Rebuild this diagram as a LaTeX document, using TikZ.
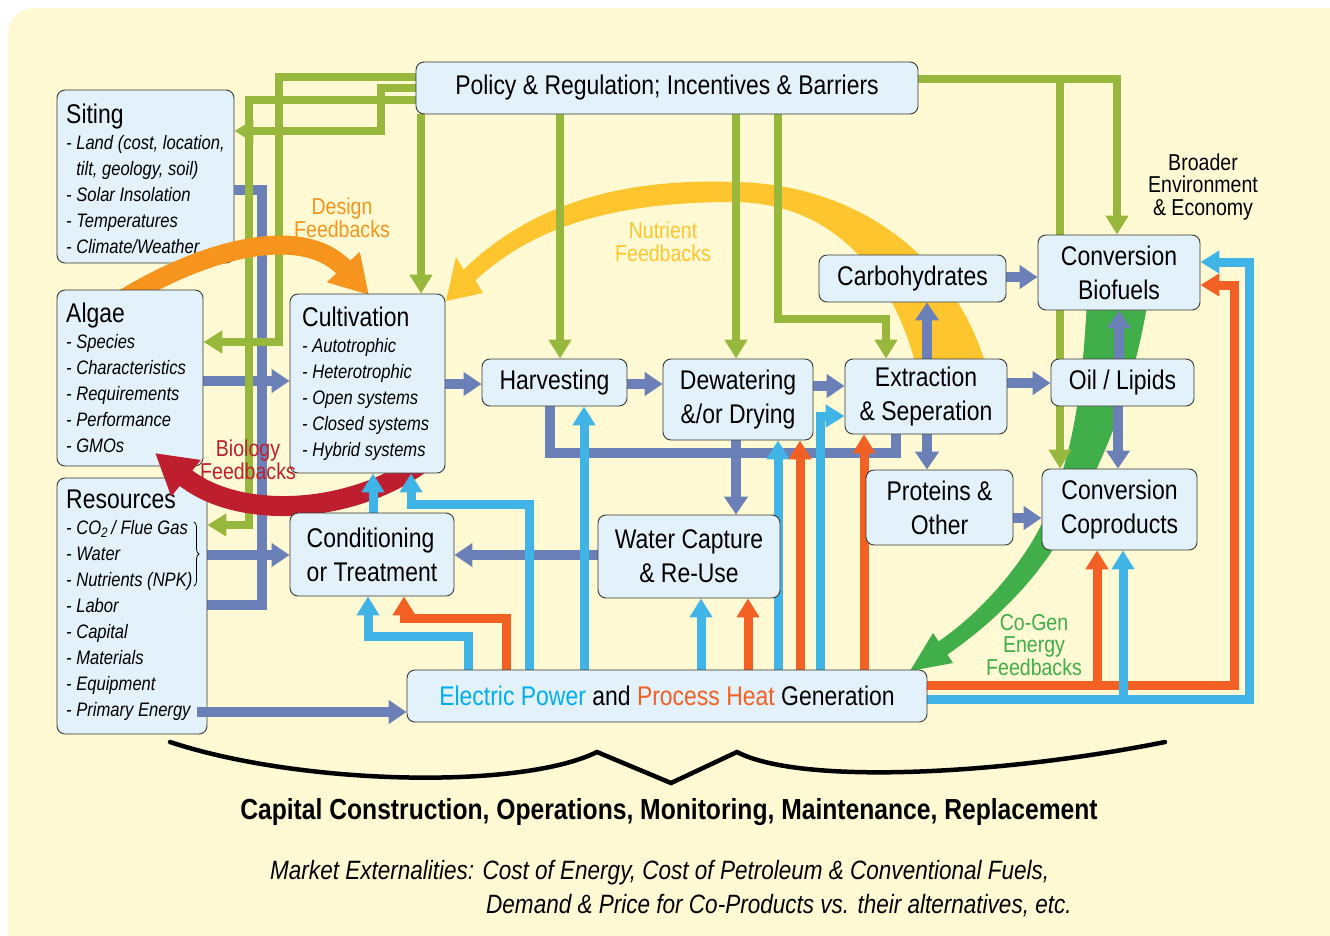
\documentclass[tikz,border=0pt]{standalone}
\usepackage{fontspec}
\setmainfont{Liberation Sans}[FakeStretch=0.85]
\usetikzlibrary{arrows.meta,decorations.pathreplacing}
\definecolor{bgYellow}{HTML}{FFFAD3}
\definecolor{boxBlue}{HTML}{E3F2FA}
\definecolor{boxLine}{HTML}{353535}
\definecolor{polGreen}{HTML}{98B83D}
\definecolor{matPurple}{HTML}{6C80B8}
\definecolor{elecBlue}{HTML}{40B4E6}
\definecolor{heatOrange}{HTML}{F26024}
\definecolor{designOrange}{HTML}{F7941E}
\definecolor{nutrYellow}{HTML}{FEC52E}
\definecolor{bioRed}{HTML}{BE1E2D}
\definecolor{cogenGreen}{HTML}{40AE49}
\definecolor{elecText}{HTML}{00AEEF}
\newcommand{\titlesize}{\fontsize{27}{34}\selectfont}
\newcommand{\itemsize}{\fontsize{19.5}{26}\selectfont\itshape}
\newcommand{\fbsize}{\fontsize{23}{22.5}\selectfont}
\pgfdeclarelayer{back}
\pgfdeclarelayer{sitinglayer}
\pgfdeclarelayer{lowflow}
\pgfdeclarelayer{designlayer}
\pgfdeclarelayer{leftbox}
\pgfdeclarelayer{biolayer}
\pgfdeclarelayer{highflow}
\pgfsetlayers{back,sitinglayer,lowflow,designlayer,leftbox,biolayer,highflow,main}

\begin{document}
\begin{tikzpicture}[x=1pt,y=-1pt,
    box/.style={draw=boxLine, fill=boxBlue, line width=0.9pt, rounded corners=8pt, align=center, font=\titlesize, inner sep=0pt},
    listtext/.style={anchor=north west, align=left, inner sep=0pt, font=\itemsize},
    fblabel/.style={align=center, font=\fbsize, inner sep=0pt},
    pol/.style={draw=polGreen, line width=8.5pt, -{Triangle[length=19pt,width=22pt]}},
    mat/.style={draw=matPurple, line width=9.5pt, -{Triangle[length=18pt,width=23pt]}},
    matline/.style={draw=matPurple, line width=9.5pt},
    elec/.style={draw=elecBlue, line width=9pt, -{Triangle[length=19pt,width=22pt]}},
    heat/.style={draw=heatOrange, line width=9pt, -{Triangle[length=19pt,width=22pt]}},
]
\useasboundingbox (0,0) rectangle (1330,935);

% background and wide feedback bands
\begin{pgfonlayer}{back}
  \fill[bgYellow, rounded corners=26pt] (8,8) rectangle (1380,985);
  \fill[nutrYellow] (985,362) .. controls (950,250) and (850,183) .. (733,182)
    .. controls (620,178) and (530,205) .. (463.6,269.6) -- (456,257) -- (446,301) -- (483,293) -- (475.4,280.4)
    .. controls (540,220) and (630,202) .. (733,202) .. controls (830,202) and (890,270) .. (915,362) -- cycle;
  \fill[cogenGreen] (1087,300) .. controls (1082,400) and (1070,480) .. (1030,545)
    .. controls (1005,585) and (970,620) .. (938.6,641.4) -- (933,633) -- (910,671) -- (953,663) -- (947.4,654.6)
    .. controls (990,625) and (1040,580) .. (1070,520) .. controls (1110,450) and (1135,380) .. (1148,300) -- cycle;
\end{pgfonlayer}

% boxes
\node[box, minimum width=502pt, minimum height=52pt] (policy) at (667,88) {Policy \& Regulation; Incentives \& Barriers};
\node[box, minimum width=155pt, minimum height=179pt] (cultivation) at (367.5,383.5) {};
\node[listtext] (cultivationtxt) at (302,306.5) {{\titlesize\upshape Cultivation}\\
  - Autotrophic\\
  - Heterotrophic\\
  - Open systems\\
  - Closed systems\\
  - Hybrid systems};
\node[box, minimum width=145pt, minimum height=47pt] (harvesting) at (554.5,382.5) {Harvesting};
\node[box, minimum width=150pt, minimum height=81pt] (dewatering) at (738,399.5) {Dewatering\\\&/or Drying};
\node[box, minimum width=162pt, minimum height=75pt] (extraction) at (926,396.5) {Extraction\\\& Seperation};
\node[box, minimum width=187pt, minimum height=47pt] (carbs) at (912.5,278.5) {Carbohydrates};
\node[box, minimum width=162pt, minimum height=75pt] (biofuels) at (1119,272.5) {Conversion\\Biofuels};
\node[box, minimum width=143pt, minimum height=47pt] (oil) at (1122.5,382.5) {Oil / Lipids};
\node[box, minimum width=147pt, minimum height=75pt] (proteins) at (939.5,507.5) {Proteins \&\\Other};
\node[box, minimum width=155pt, minimum height=81pt] (coproducts) at (1119.5,509.5) {Conversion\\Coproducts};
\node[box, align=left, minimum width=164pt, minimum height=83pt] (conditioning) at (372,554.5) {Conditioning\\or Treatment};
\node[box, minimum width=182pt, minimum height=83pt] (watercap) at (689,556.5) {Water Capture\\\& Re-Use};
\node[box, minimum width=520pt, minimum height=52pt] (power) at (667,696)
  {{\color{elecText}Electric Power} and {\color{heatOrange}Process Heat} Generation};

\begin{pgfonlayer}{sitinglayer}
  \node[box, minimum width=177pt, minimum height=173pt] (siting) at (145.5,176.5) {};
  \node[listtext] (sitingtxt) at (66,103.5) {{\titlesize\upshape Siting}\\
    - Land (cost, location,\\
    \phantom{- }tilt, geology, soil)\\
    - Solar Insolation\\
    - Temperatures\\
    - Climate/Weather};
\end{pgfonlayer}
\begin{pgfonlayer}{leftbox}
  \node[box, minimum width=146pt, minimum height=176pt] (algae) at (130,378) {};
  \node[listtext] (algaetxt) at (66,302.5) {{\titlesize\upshape Algae}\\
    - Species\\
    - Characteristics\\
    - Requirements\\
    - Performance\\
    - GMOs};
  \node[box, minimum width=150pt, minimum height=256pt] (resources) at (132,606) {};
  \node[listtext] (resourcestxt) at (66,489.5) {{\titlesize\upshape Resources}\\
    - CO\textsubscript{2}\,/ Flue Gas\\
    - Water\\
    - Nutrients (NPK)\\
    - Labor\\
    - Capital\\
    - Materials\\
    - Equipment\\
    - Primary Energy};
  \draw[decorate, decoration={brace, amplitude=5pt}, line width=0.8pt] (194,522) -- (194,586);
  \draw[mat] ([xshift=-10pt]resources.east |- 0,712) -- (power.west |- 0,712);
\end{pgfonlayer}

% policy and material flows
\begin{pgfonlayer}{lowflow}
  \draw[matline] (siting.east |- 0,190) -| (262,605) -- (resources.east |- 0,605);
  \draw[mat] (algae.east |- 0,381) -- (cultivation.west |- 0,381);
  \draw[mat] (resources.east |- 0,555) -- (conditioning.west |- 0,555);
  \draw[mat] (cultivation.east |- 0,384) -- (harvesting.west |- 0,384);
  \draw[mat] (harvesting.east |- 0,384) -- (dewatering.west |- 0,384);
  \draw[mat] (dewatering.east |- 0,386) -- (extraction.west |- 0,386);
  \draw[mat] (extraction.east |- 0,383) -- (oil.west |- 0,383);
  \draw[mat] (extraction.north -| 927,0) -- (carbs.south -| 927,0);
  \draw[mat] (carbs.east |- 0,277) -- (biofuels.west |- 0,277);
  \draw[mat] (oil.north -| 1119,0) -- (biofuels.south -| 1119,0);
  \draw[mat] (oil.south -| 1118,0) -- (coproducts.north -| 1118,0);
  \draw[mat] (extraction.south -| 927,0) -- (proteins.north -| 927,0);
  \draw[mat] (proteins.east |- 0,518) -- (coproducts.west |- 0,518);
  \draw[matline] (harvesting.south -| 550,0) |- (896,453) -- (extraction.south -| 896,0);
  \draw[mat] (dewatering.south -| 736,0) -- (watercap.north -| 736,0);
  \draw[mat] (watercap.west |- 0,555) -- (conditioning.east |- 0,555);

  \draw[pol] ([yshift=11pt]policy.west) -| (279,342) -- (algae.east |- 0,342);
  \draw[pol] (policy.west) -| (381,131) -- (siting.east |- 0,131);
  \draw[pol] ([yshift=-12pt]policy.west) -| (249,525) -- (resources.east |- 0,525);
  \draw[pol] (policy.south -| 421,0) -- (cultivation.north -| 421,0);
  \draw[pol] (policy.south -| 560,0) -- (harvesting.north -| 560,0);
  \draw[pol] (policy.south -| 736,0) -- (dewatering.north -| 736,0);
  \draw[pol] (policy.south -| 778,0) |- (886,319) -- (extraction.north -| 886,0);
  \draw[pol] ([yshift=9pt]policy.east) -| (biofuels.north -| 1117,0);
  \draw[pol] ([yshift=9pt]policy.east) -| (coproducts.north -| 1060,0);
\end{pgfonlayer}

% design and biology feedbacks
\begin{pgfonlayer}{designlayer}
  \draw[designOrange, line width=19pt, -{Triangle[length=38pt,width=42pt]}]
    (100,314) .. controls (190,252) and (300,220) .. (369,295);
\end{pgfonlayer}
\begin{pgfonlayer}{biolayer}
  \draw[bioRed, line width=20pt, -{Triangle[length=40pt,width=44pt]}]
    (432,455) .. controls (360,515) and (240,522) .. (155,453);
\end{pgfonlayer}

% power and heat
\begin{pgfonlayer}{highflow}
  \draw[heat] (power.north -| 506,0) |- (404,618) -- (conditioning.south -| 404,0);
  \draw[elec] (power.north -| 468,0) |- (368,636) -- (conditioning.south -| 368,0);
  \draw[elec] (power.north -| 529,0) |- (411,504) -- (cultivation.south -| 411,0);
  \draw[elec] (conditioning.north -| 373,0) -- (cultivation.south -| 373,0);
  \draw[elec] (power.north -| 584,0) -- (harvesting.south -| 584,0);
  \draw[elec] (power.north -| 701,0) -- (watercap.south -| 701,0);
  \draw[heat] (power.north -| 748,0) -- (watercap.south -| 748,0);
  \draw[elec] (power.north -| 778,0) -- (dewatering.south -| 778,0);
  \draw[heat] (power.north -| 800,0) -- (dewatering.south -| 800,0);
  \draw[elec] (power.north -| 820,0) |- (extraction.west |- 0,416);
  \draw[heat] (power.north -| 864,0) -- (extraction.south -| 864,0);
  \draw[heat] ([yshift=11pt]power.east) -| (1234,285) -- (biofuels.east |- 0,285);
  \draw[heat] ([yshift=11pt]power.east) -| (coproducts.south -| 1097,0);
  \draw[elec] ([yshift=-3pt]power.east) -| (1249,262) -- (biofuels.east |- 0,262);
  \draw[elec] ([yshift=-3pt]power.east) -| (coproducts.south -| 1123,0);
\end{pgfonlayer}

% labels
\node[fblabel, text=designOrange] (designlbl) at (342,218) {Design\\Feedbacks};
\node[fblabel, text=nutrYellow] (nutrientlbl) at (663,242) {Nutrient\\Feedbacks};
\node[fblabel, text=bioRed] (biologylbl) at (248,460) {Biology\\Feedbacks};
\node[fblabel, text=cogenGreen] (cogenlbl) at (1034,645) {Co-Gen\\Energy\\Feedbacks};
\node[fblabel] (broaderlbl) at (1203,187) {Broader\\Environment\\\& Economy};

% bottom brace and notes
\draw[line width=4.5pt, line cap=round] (170,742) .. controls (300,785) and (520,790) .. (597,752)
  -- (671,783) -- (737,752) .. controls (800,785) and (1000,775) .. (1165,742);
\node[inner sep=0pt, font=\fontsize{29}{32}\selectfont\bfseries] (capital) at (669,812)
  {Capital Construction, Operations, Monitoring, Maintenance, Replacement};
\node[anchor=west, inner sep=0pt, font=\fontsize{26.5}{30}\selectfont\itshape] (market) at (270,873)
  {Market Externalities: Cost of Energy, Cost of Petroleum \& Conventional Fuels,};
\node[anchor=west, inner sep=0pt, font=\fontsize{26.5}{30}\selectfont\itshape] (demand) at (486,906)
  {Demand \& Price for Co-Products vs. their alternatives, etc.};
\end{tikzpicture}
\end{document}
